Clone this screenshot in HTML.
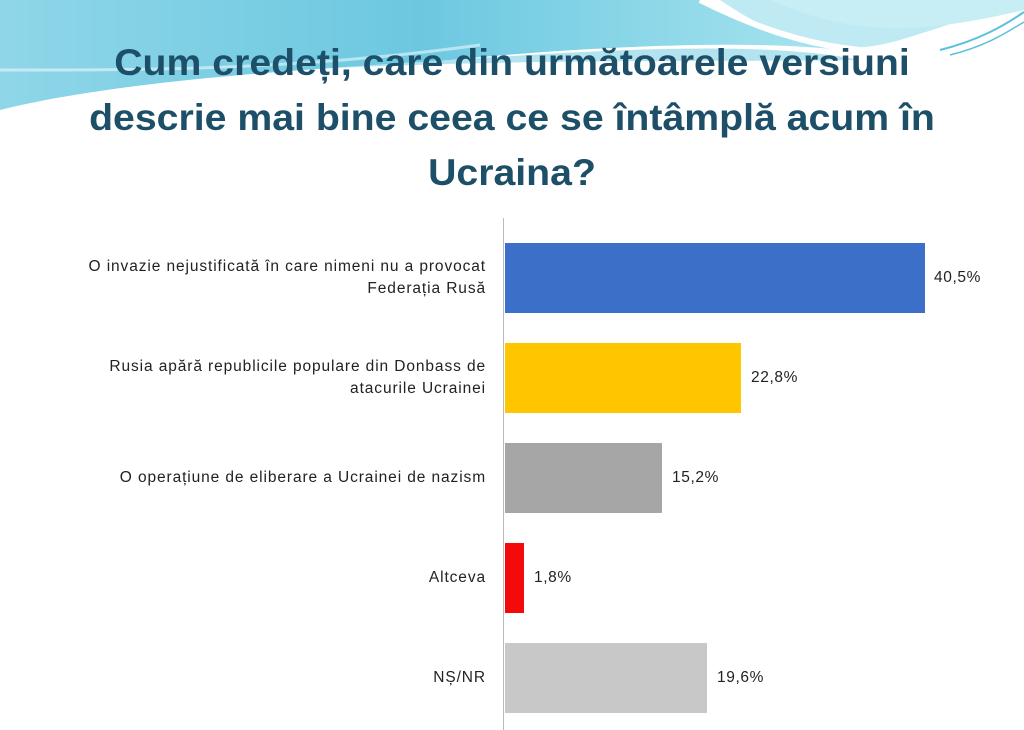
<!DOCTYPE html>
<html><head><meta charset="utf-8"><style>
body{margin:0;width:1024px;height:730px;overflow:hidden;background:#fff;font-family:"Liberation Sans",sans-serif;position:relative}
.t{position:absolute;left:0;width:1024px;text-align:center;font-weight:bold;font-size:37px;color:#1d4f68;transform:scaleX(1.06);transform-origin:512px 0;white-space:nowrap}
.lab{position:absolute;right:538px;text-align:right;font-size:15.5px;letter-spacing:0.9px;color:#222;line-height:22px;white-space:nowrap}
.bar{position:absolute;left:505px;height:70px}
.val{position:absolute;font-size:15.5px;letter-spacing:0.6px;color:#222}
</style></head><body>
<svg width="1024" height="230" style="position:absolute;left:0;top:0">
<defs><linearGradient id="g" x1="0" y1="0" x2="1" y2="0"><stop offset="0" stop-color="#8fd6e8"/><stop offset="0.5" stop-color="#6cc8e0"/><stop offset="1" stop-color="#a8e4ef"/></linearGradient></defs>
<path d="M0 0 H720 C780 40 830 60 900 40 C950 25 990 10 1024 0 V0 Z" fill="#bfeaf3"/>
<path d="M0 0 H700 C760 30 800 45 840 50 C760 40 600 45 450 60 C300 70 120 80 0 110 Z" fill="url(#g)"/>
<path d="M770 0 C840 30 900 40 1024 10 V0 Z" fill="#c8eef5"/>
<path d="M0 110 C120 80 300 70 450 60 C600 50 760 40 860 60 C760 62 500 58 300 70 C150 80 60 95 0 110Z" fill="#7fd0e4" opacity="0.6"/>
<path d="M0 70 C150 70 300 70 480 45" stroke="#fff" stroke-width="3" fill="none" opacity="0.5"/>
<path d="M940 50 C980 40 1005 25 1024 12" stroke="#5bc0dc" stroke-width="2" fill="none"/>
<path d="M950 55 C990 45 1010 30 1024 22" stroke="#5bc0dc" stroke-width="1.5" fill="none"/>
<path d="M700 0 C760 30 810 45 860 50" stroke="#fff" stroke-width="6" fill="none"/>
</svg>
<div class="t" style="top:42px">Cum credeți, care din următoarele versiuni</div>
<div class="t" style="top:97px">descrie mai bine ceea ce se întâmplă acum în</div>
<div class="t" style="top:152px">Ucraina?</div>
<div style="position:absolute;left:503px;top:218px;width:1px;height:512px;background:#bbb"></div>
<div class="bar" style="top:243px;width:420px;background:#3c6fc8"></div>
<div class="bar" style="top:343px;width:236px;background:#ffc600"></div>
<div class="bar" style="top:443px;width:157px;background:#a6a6a6"></div>
<div class="bar" style="top:543px;width:19px;background:#f40a0a"></div>
<div class="bar" style="top:643px;width:202px;background:#c8c8c8"></div>
<div class="val" style="left:934px;top:269px">40,5%</div>
<div class="val" style="left:751px;top:369px">22,8%</div>
<div class="val" style="left:672px;top:469px">15,2%</div>
<div class="val" style="left:534px;top:569px">1,8%</div>
<div class="val" style="left:717px;top:669px">19,6%</div>
<div class="lab" style="top:256px">O invazie nejustificată în care nimeni nu a provocat<br>Federația Rusă</div>
<div class="lab" style="top:356px">Rusia apără republicile populare din Donbass de<br>atacurile Ucrainei</div>
<div class="lab" style="top:467px">O operațiune de eliberare a Ucrainei de nazism</div>
<div class="lab" style="top:567px">Altceva</div>
<div class="lab" style="top:667px">NȘ/NR</div>
</body></html>
